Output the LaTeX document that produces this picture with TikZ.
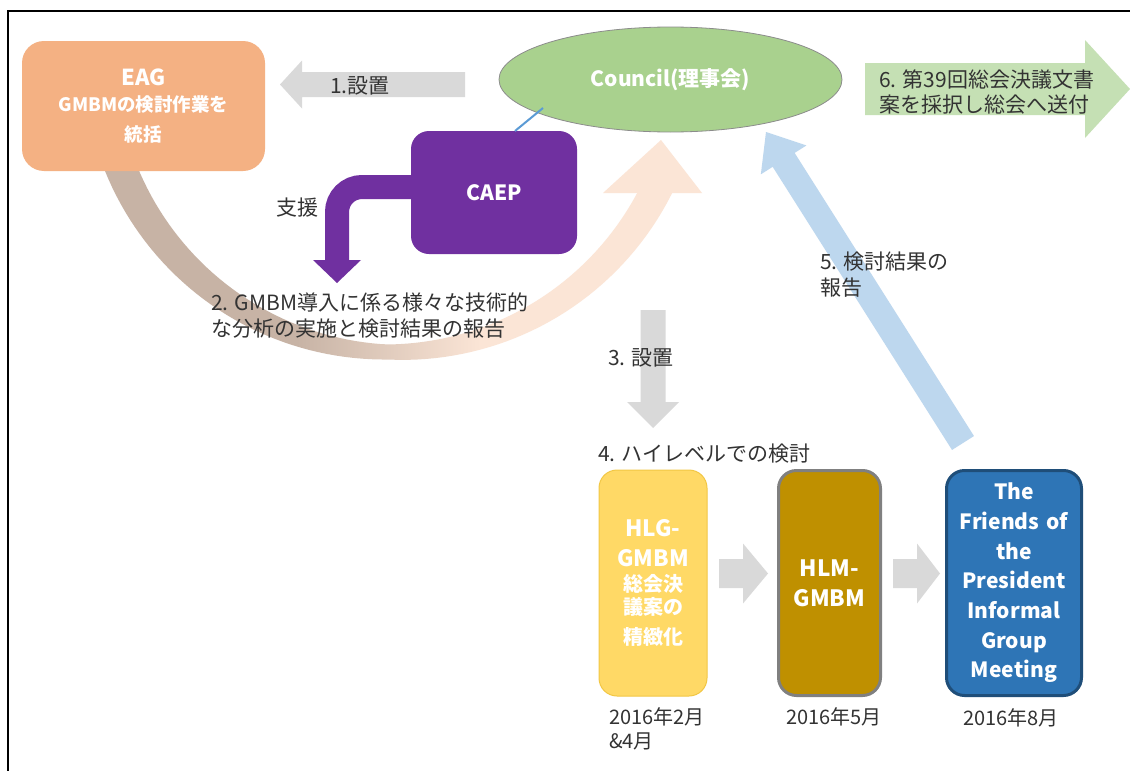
\documentclass[tikz,border=0pt]{standalone}
\usepackage{fontspec}
\setmainfont{Noto Sans CJK JP}
\usetikzlibrary{calc,shapes.geometric}
\definecolor{txt}{HTML}{333333}
\definecolor{eagc}{HTML}{F4B183}
\definecolor{councilc}{HTML}{A9D18E}
\definecolor{cborder}{HTML}{8C8C8C}
\definecolor{caepc}{HTML}{7030A0}
\definecolor{grayarr}{HTML}{D9D9D9}
\definecolor{greenarr}{HTML}{C5E0B4}
\definecolor{bluearr}{HTML}{BDD7EE}
\definecolor{bluel}{HTML}{5B9BD5}
\definecolor{hlgc}{HTML}{FFD966}
\definecolor{hlgb}{HTML}{F2C744}
\definecolor{hlmc}{HTML}{BF9000}
\definecolor{hlmb}{HTML}{808080}
\definecolor{frc}{HTML}{2E75B6}
\definecolor{frb}{HTML}{1F4E79}
\definecolor{bandbrown}{HTML}{C7B3A5}
\definecolor{bandpeach}{HTML}{FBE5D6}
\pgfdeclarehorizontalshading{bandshade}{100bp}{color(0bp)=(bandbrown); color(25bp)=(bandbrown); color(42bp)=(bandbrown); color(58bp)=(bandpeach); color(100bp)=(bandpeach)}
% block arrow: #1 tail, #2 tip, #3 half body width, #4 half head width, #5 head length, #6 colour
\newcommand\blockarr[6]{%
  \coordinate (babase) at ($(#2)!#5!(#1)$);
  \fill[#6] ($(#1)!#3!90:(#2)$) -- ($(babase)!#3!90:(#2)$) -- ($(babase)!#4!90:(#2)$) -- (#2)
    -- ($(babase)!#4!-90:(#2)$) -- ($(babase)!#3!-90:(#2)$) -- ($(#1)!#3!-90:(#2)$) -- cycle;
}
\begin{document}
\begin{tikzpicture}[x=1pt,y=-1pt,
  every node/.style={inner sep=0pt,outer sep=0pt},
  lbl/.style={text=txt,font=\fontsize{21}{26}\selectfont,anchor=west,align=left},
  datelbl/.style={text=txt,font=\fontsize{20}{24}\selectfont,align=left},
  boxnode/.style={rounded corners=18pt,text=white,font=\bfseries\fontsize{21}{29.7}\selectfont,align=center},
]
\useasboundingbox (0,0) rectangle (1130,771);
\fill[white] (0,0) rectangle (1130,771);
\draw[line width=2pt] (8,771) -- (8,11) -- (1130,11);

% curved band arrow (EAG -> Council)
\shade[shading=bandshade]
  plot[domain=160:24,samples=80] ({387+(301.5+6.5*cos(\x)+9*abs(cos(\x)))*cos(\x)},{58+(301.5+6.5*cos(\x)+9*abs(cos(\x)))*sin(\x)})
  -- plot[domain=24:160,samples=80] ({387+(286.5+6.5*cos(\x)-9*abs(cos(\x)))*cos(\x)},{58+(286.5+6.5*cos(\x)-9*abs(cos(\x)))*sin(\x)})
  -- cycle;
\coordinate (bh1) at (603,193);
\coordinate (bh2) at (702,193);
\coordinate (bhtip) at (661,140);
\fill[bandpeach] (bh1) -- (bh2) -- (bhtip) -- cycle;

% EAG
\node[boxnode,fill=eagc,rounded corners=22pt,minimum width=243pt,minimum height=130pt,text width=243pt] (eag) at (143.5,106)
  {{\fontsize{22}{27}\selectfont EAG\par}\vspace{3pt}\fontsize{18.5}{23}\selectfont GMBMの検討作業を\\統括};

% arrow 1
\coordinate (a1s) at (465,84.5);
\coordinate (a1e) at (280,84.5);
\blockarr{a1s}{a1e}{12.5pt}{24pt}{22pt}{grayarr}
\node[lbl] (t1) at (330,86) {1.設置};

% Council
\node[ellipse,draw=cborder,line width=0.8pt,fill=councilc,minimum width=343pt,minimum height=105pt,
  text=white,font=\bfseries\fontsize{21}{24}\selectfont] (council) at (670.5,79.5) {Council(理事会)};

% purple support arrow
\coordinate (p0) at (420,187);
\coordinate (p1) at (337,187);
\coordinate (p2) at (337,262);
\draw[caepc,line width=24pt,rounded corners=25pt] (p0) -- (p1) -- (p2);
\coordinate (ph1) at (313,260);
\coordinate (ph2) at (361,260);
\coordinate (phtip) at (337,283);
\fill[caepc] (ph1) -- (ph2) -- (phtip) -- cycle;

% CAEP
\node[boxnode,fill=caepc,minimum width=166pt,minimum height=123pt] (caep) at (494,192.5) {CAEP};
\coordinate (cl1) at ($(caep.north west)+(104,0)$);
\coordinate (cl2) at ($(council.center)+(-127.5,28.5)$);
\draw[bluel,line width=2pt] (cl1) -- (cl2);

\node[lbl] (t1b) at (276,208) {支援};
\node[lbl] (t2) at (211,316) {2. GMBM導入に係る様々な技術的\\な分析の実施と検討結果の報告};

% arrow 6
\coordinate (a6s) at (865,89);
\coordinate (a6e) at (1130,89);
\blockarr{a6s}{a6e}{26pt}{49pt}{45pt}{greenarr}
\node[lbl,font=\fontsize{21}{25}\selectfont] (t6) at (879,91.5) {6. 第39回総会決議文書\\案を採択し総会へ送付};

% arrow 5
\coordinate (a5s) at (963,443);
\coordinate (a5e) at (766,132);
\blockarr{a5s}{a5e}{13pt}{27pt}{33pt}{bluearr}
\node[lbl] (t5) at (820,275) {5. 検討結果の\\報告};

% arrow 3
\coordinate (a3s) at (653,310);
\coordinate (a3e) at (653,428);
\blockarr{a3s}{a3e}{12.5pt}{26pt}{26pt}{grayarr}
\node[lbl] (t3) at (608,358) {3. 設置};

\node[lbl] (t4) at (598,454) {4. ハイレベルでの検討};

% boxes
\node[boxnode,fill=hlgc,draw=hlgb,line width=1pt,minimum width=108pt,minimum height=226pt,text width=108pt] (hlg) at (653,583)
  {{\fontsize{22.5}{30}\selectfont HLG-\\GMBM\par}\vspace{2pt}\fontsize{20}{23}\selectfont 総会決\\議案の\\精緻化};
\node[boxnode,fill=hlmc,draw=hlmb,line width=3pt,minimum width=102pt,minimum height=225pt,text width=102pt] (hlm) at (829.5,583)
  {\fontsize{22.5}{30}\selectfont HLM-\\GMBM};
\node[boxnode,fill=frc,draw=frb,line width=3pt,minimum width=135pt,minimum height=225pt,text width=135pt] (fr) at (1014,583)
  {The\\Friends of\\the\\President\\Informal\\Group\\Meeting};

\coordinate (aAs) at (719,573.5);
\coordinate (aAe) at (768,573.5);
\blockarr{aAs}{aAe}{14.5pt}{30pt}{25pt}{grayarr}
\coordinate (aBs) at (893,573.5);
\coordinate (aBe) at (940,573.5);
\blockarr{aBs}{aBe}{14.5pt}{30pt}{23pt}{grayarr}

% dates
\node[datelbl,anchor=west] (d1) at (609,729) {2016年2月\\\&4月};
\node[datelbl] (d2) at (834,717) {2016年5月};
\node[datelbl] (d3) at (1011,718) {2016年8月};
\end{tikzpicture}
\end{document}
